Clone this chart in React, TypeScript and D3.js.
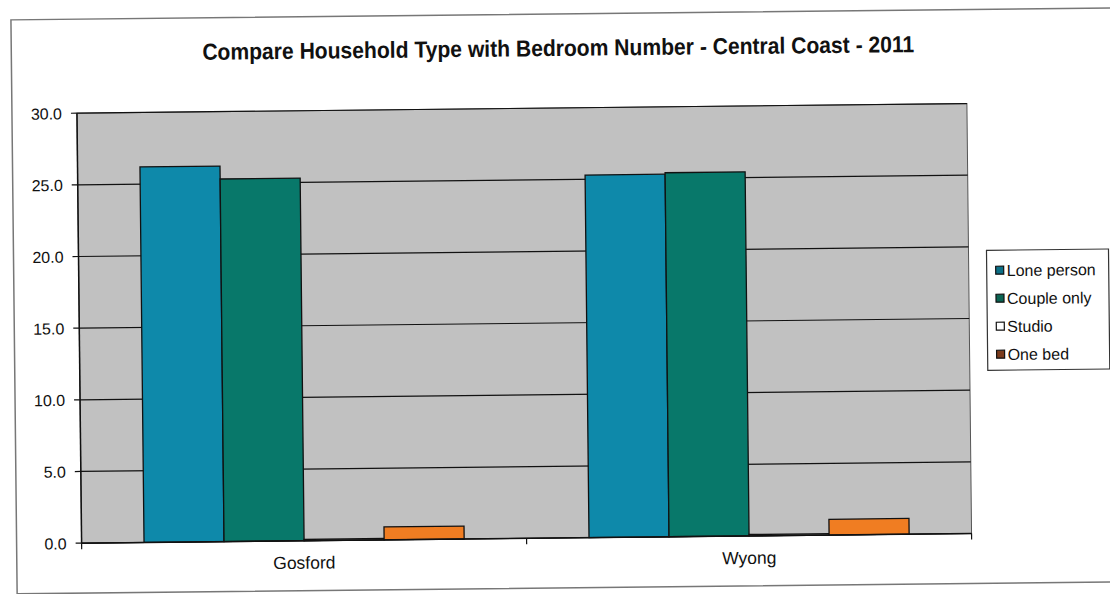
import * as d3 from 'd3';

// chart values
const categories = ['Gosford', 'Wyong'];
const seriesNames = ['Lone person', 'Couple only', 'Studio', 'One bed'];
const lonePerson = [26.2, 25.3];
const coupleOnly = [25.3, 25.4];
const studio = [0.1, 0.1];
const oneBed = [0.9, 1.1];
const yTicks = [0, 5, 10, 15, 20, 25, 30];

const colors = ['#0e89aa', '#08786a', '#ffffff', '#f07d22'];
const legendColors = ['#0c6f86', '#0a6352', '#ffffff', '#7a3b1c'];

export default function App() {
  const W = 1110;
  const H = 594;
  const plot = { left: 79, right: 969, top: 108, bottom: 538 };
  const values = [lonePerson, coupleOnly, studio, oneBed];

  const y = d3.scaleLinear().domain([0, 30]).range([plot.bottom, plot.top]);
  const x0 = d3.scaleBand().domain(categories).range([plot.left, plot.right]);
  const x1 = d3
    .scaleBand()
    .domain(seriesNames)
    .range([0, x0.bandwidth()])
    .paddingInner(0)
    .paddingOuter(0.78);

  const font = 'Arial, "Liberation Sans", sans-serif';

  return (
    <svg
      width={W}
      height={H}
      style={{ position: 'absolute', left: 0, top: 0, background: '#fff' }}
    >
      <g transform="rotate(-0.62 555 300)">
        {/* outer frame */}
        <rect x={14} y={14} width={1120} height={574} fill="#fff" stroke="#777" strokeWidth={1.5} />
        <text
          x={561}
          y={56}
          textAnchor="middle"
          fontFamily={font}
          fontWeight="bold"
          fontSize={23}
          textLength={712}
          lengthAdjust="spacingAndGlyphs"
          fill="#111"
        >
          Compare Household Type with Bedroom Number - Central Coast - 2011
        </text>

        {/* plot area */}
        <rect
          x={plot.left}
          y={plot.top}
          width={plot.right - plot.left}
          height={plot.bottom - plot.top}
          fill="#c1c1c1"
          stroke="#555"
          strokeWidth={1}
        />
        {yTicks.map((t) => (
          <g key={t}>
            <line x1={plot.left} x2={plot.right} y1={y(t)} y2={y(t)} stroke="#111" strokeWidth={1.2} />
            <line x1={plot.left - 6} x2={plot.left} y1={y(t)} y2={y(t)} stroke="#111" strokeWidth={1.2} />
            <text
              x={plot.left - 15}
              y={y(t) + 6}
              textAnchor="end"
              fontFamily={font}
              fontSize={16}
              fill="#111"
            >
              {t.toFixed(1)}
            </text>
          </g>
        ))}

        {/* bars */}
        {categories.map((c, ci) => (
          <g key={c} transform={`translate(${x0(c)},0)`}>
            {seriesNames.map((s, si) => {
              const v = values[si][ci];
              return (
                <rect
                  key={s}
                  x={x1(s)!}
                  y={y(v)}
                  width={x1.bandwidth()}
                  height={y(0) - y(v)}
                  fill={colors[si]}
                  stroke="#111"
                  strokeWidth={1.3}
                />
              );
            })}
          </g>
        ))}

        {/* axes */}
        <line x1={plot.left} x2={plot.left} y1={plot.top} y2={plot.bottom} stroke="#111" strokeWidth={1.5} />
        <line x1={plot.left} x2={plot.right} y1={plot.bottom} y2={plot.bottom} stroke="#111" strokeWidth={1.5} />
        {[...categories.map((c) => x0(c)!), plot.right].map((px, i) => (
          <line key={i} x1={px} x2={px} y1={plot.bottom} y2={plot.bottom + 6} stroke="#111" strokeWidth={1.2} />
        ))}
        {categories.map((c) => (
          <text
            key={c}
            x={x0(c)! + x0.bandwidth() / 2}
            y={plot.bottom + 28}
            textAnchor="middle"
            fontFamily={font}
            fontSize={17.5}
            fill="#111"
          >
            {c}
          </text>
        ))}

        {/* legend */}
        <rect x={987} y={255} width={122} height={120} fill="#fff" stroke="#333" strokeWidth={1.2} />
        {seriesNames.map((s, i) => (
          <g key={s} transform={`translate(996,${276 + i * 28})`}>
            <rect x={0} y={-5} width={8} height={8} fill={legendColors[i]} stroke="#111" strokeWidth={1.2} />
            <text x={11} y={5} fontFamily={font} fontSize={16} fill="#111">
              {s}
            </text>
          </g>
        ))}
      </g>
    </svg>
  );
}
